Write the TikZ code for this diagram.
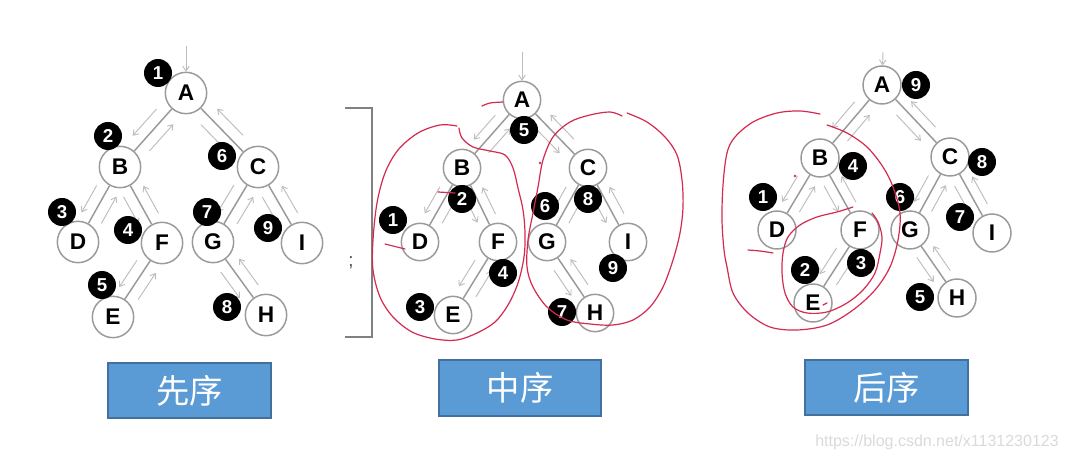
\documentclass[tikz,border=0pt]{standalone}
\usepackage{fontspec}
\setmainfont{Liberation Sans}
\newfontfamily\cjk{Noto Sans CJK SC}
\usetikzlibrary{calc,arrows.meta}
\definecolor{edgegray}{HTML}{9A9A9A}
\definecolor{arrgray}{HTML}{BDBDBD}
\definecolor{inkred}{HTML}{D42A50}
\definecolor{boxfill}{HTML}{5B9BD5}
\definecolor{boxline}{HTML}{41719C}
\definecolor{wmgray}{HTML}{DADADA}
\definecolor{brgray}{HTML}{808080}
\tikzset{
 tnode/.style={circle, draw=edgegray, line width=1.1pt, fill=white, inner sep=0pt, font=\fontsize{17}{17}\selectfont\bfseries},
 tn1/.style={tnode, minimum size=31pt},
 tn2/.style={tnode, minimum size=28pt},
 tn3/.style={tnode, minimum size=28.5pt},
 num/.style={circle, fill=black, inner sep=0pt, minimum size=21pt, text=white, font=\fontsize{14}{14}\selectfont\bfseries},
 tedge/.style={draw=edgegray, line width=1.1pt},
 tarrow/.style={draw=arrgray, line width=0.7pt, -{Straight Barb[length=3.5pt,width=5pt]}},
 redink/.style={draw=inkred, line width=0.9pt, line cap=round, line join=round},
 capbox/.style={draw=boxline, line width=1.5pt, fill=boxfill, text=white, minimum width=122pt, minimum height=41.5pt, font=\cjk\fontsize{25}{25}\selectfont, inner sep=0pt},
}
\newcommand\trav[3][7pt]{%
 \draw[tarrow] ($(#2)!0.32!(#3)!#1!-90:(#3)$) -- ($(#2)!0.68!(#3)!#1!-90:(#3)$);
 \draw[tarrow] ($(#3)!0.32!(#2)!#1!-90:(#2)$) -- ($(#3)!0.68!(#2)!#1!-90:(#2)$);
}
\begin{document}
\begin{tikzpicture}[x=0.75pt,y=-0.75pt]
\fill[white] (0,0) rectangle (1066,459);
\useasboundingbox (0,0) rectangle (1066,459);

% ---------- Tree 1 (preorder) ----------
\node[tn1] (pA) at (186,93) {A};
\node[tn1] (pB) at (120,167) {B};
\node[tn1] (pC) at (258,167) {C};
\node[tn1] (pD) at (78,242) {D};
\node[tn1] (pF) at (162,243) {F};
\node[tn1] (pG) at (213,242) {G};
\node[tn1] (pI) at (302,243) {I};
\node[tn1] (pE) at (113,317) {E};
\node[tn1] (pH) at (266,315) {H};
\coordinate (pTop) at (186,46);
\foreach \a/\b in {pA/pB,pA/pC,pB/pD,pB/pF,pF/pE,pC/pG,pC/pI,pG/pH}{\draw[tedge] (\a) -- (\b); \trav[8.5pt]{\a}{\b}}
\draw[tarrow] (pTop) -- (pA);
\node[num] (p1) at (158,73) {1};
\node[num] (p2) at (108,136) {2};
\node[num] (p3) at (62,212) {3};
\node[num] (p4) at (128,230) {4};
\node[num] (p5) at (102,285) {5};
\node[num] (p6) at (222,156) {6};
\node[num] (p7) at (207,212) {7};
\node[num] (p8) at (227,307) {8};
\node[num] (p9) at (268,228) {9};

% ---------- bracket ----------
\draw[brgray, line width=1.1pt] (345,108) -- (372,108) -- (372,337) -- (345,337);
\node[text=black!70, font=\fontsize{14}{14}\selectfont, inner sep=0pt] (semi) at (351,263) {;};

% ---------- Tree 2 (inorder) ----------
\node[tn2] (iA) at (522,100) {A};
\node[tn2] (iB) at (462,168) {B};
\node[tn2] (iC) at (588,168) {C};
\node[tn2] (iD) at (420,242) {D};
\node[tn2] (iF) at (498,242) {F};
\node[tn2] (iG) at (547,242) {G};
\node[tn2] (iI) at (628,242) {I};
\node[tn2] (iE) at (453,315) {E};
\node[tn2] (iH) at (595,313) {H};
\coordinate (iTop) at (522,52);
\foreach \a/\b in {iA/iB,iA/iC,iB/iD,iB/iF,iF/iE,iC/iG,iC/iI,iG/iH}{\draw[tedge] (\a) -- (\b); \trav[7.5pt]{\a}{\b}}
\draw[tarrow] (iTop) -- (iA);
\node[num] (i5) at (524,130) {5};
\node[num] (i2) at (462,199) {2};
\node[num] (i1) at (393,220) {1};
\node[num] (i6) at (545,206) {6};
\node[num] (i8) at (588,199) {8};
\node[num] (i4) at (503,273) {4};
\node[num] (i3) at (420,307) {3};
\node[num] (i9) at (613,268) {9};
\node[num] (i7) at (562,312) {7};

% ---------- Tree 3 (postorder) ----------
\node[tn3] (oA) at (882,85) {A};
\node[tn3] (oB) at (820,158) {B};
\node[tn3] (oC) at (950,157) {C};
\node[tn3] (oD) at (777,230) {D};
\node[tn3] (oF) at (860,230) {F};
\node[tn3] (oG) at (910,230) {G};
\node[tn3] (oI) at (992,233) {I};
\node[tn3] (oE) at (813,303) {E};
\node[tn3] (oH) at (957,298) {H};
\coordinate (oTop) at (883,52);
\foreach \a/\b in {oA/oB,oA/oC,oB/oD,oB/oF,oF/oE,oC/oG,oC/oI,oG/oH}{\draw[tedge] (\a) -- (\b); \trav[7.5pt]{\a}{\b}}
\draw[tarrow] (oTop) -- (oA);
\node[num] (o9) at (916,85) {9};
\node[num] (o4) at (853,166) {4};
\node[num] (o8) at (982,162) {8};
\node[num] (o1) at (763,197) {1};
\node[num] (o6) at (900,197) {6};
\node[num] (o7) at (960,217) {7};
\node[num] (o2) at (805,270) {2};
\node[num] (o3) at (861,263) {3};
\node[num] (o5) at (920,297) {5};

% ---------- red hand-drawn marks ----------
\draw[redink] plot[smooth, tension=0.55] coordinates {(459,128) (462,138) (473,147) (490,151) (505,155) (513,168) (518,188) (523,210) (525,233) (524,257) (518,283) (508,305) (495,322) (477,333) (457,340) (435,339) (412,332) (393,317) (380,297) (373,270) (373,240) (377,203) (385,173) (398,150) (418,133) (440,125) (457,126)};
\draw[redink] plot[smooth, tension=0.55] coordinates {(627,113) (647,122) (665,137) (677,155) (682,180) (683,207) (680,233) (673,260) (663,287) (650,307) (633,320) (613,325) (590,324) (567,320) (547,307) (533,287) (527,267) (528,240) (533,213) (538,187) (543,160) (553,137) (570,122) (590,115) (610,112) (622,116)};
\draw[redink] plot[smooth] coordinates {(482,106) (490,103) (503,102)};
\draw[redink] (438,192) -- (455,193);
\draw[redink] (385,244) -- (405,249);
\fill[inkred] (540,163) circle (1pt);

\draw[redink] plot[smooth, tension=0.55] coordinates {(820,114) (800,111) (777,113) (753,122) (735,137) (727,153) (723,185) (722,220) (724,250) (727,267) (733,293) (748,313) (770,327) (797,330) (827,325) (853,310) (875,290) (890,267) (898,240) (900,213) (893,187) (883,167) (867,147) (847,133) (827,125)};
\draw[redink] plot[smooth, tension=0.55] coordinates {(853,207) (837,212) (817,217) (800,225) (788,237) (783,253) (782,273) (785,293) (793,307) (807,313) (827,312) (847,303) (863,290) (875,273) (880,253) (882,237) (878,222) (872,213)};
\draw[redink] plot[smooth] coordinates {(748,250) (760,251) (773,253)};
\draw[redink] (823,305) -- (827,303);
\fill[inkred] (795,176) circle (1pt);

% ---------- captions ----------
\node[capbox] (lp) at (189.5,390.5) {先序};
\node[capbox] (li) at (520,388) {中序};
\node[capbox] (lo) at (886.5,387.5) {后序};

\node[anchor=base west, text=wmgray, font=\fontsize{12}{12}\selectfont, inner sep=0pt] (wm) at (815,446) {https://blog.csdn.net/x1131230123};
\end{tikzpicture}
\end{document}
